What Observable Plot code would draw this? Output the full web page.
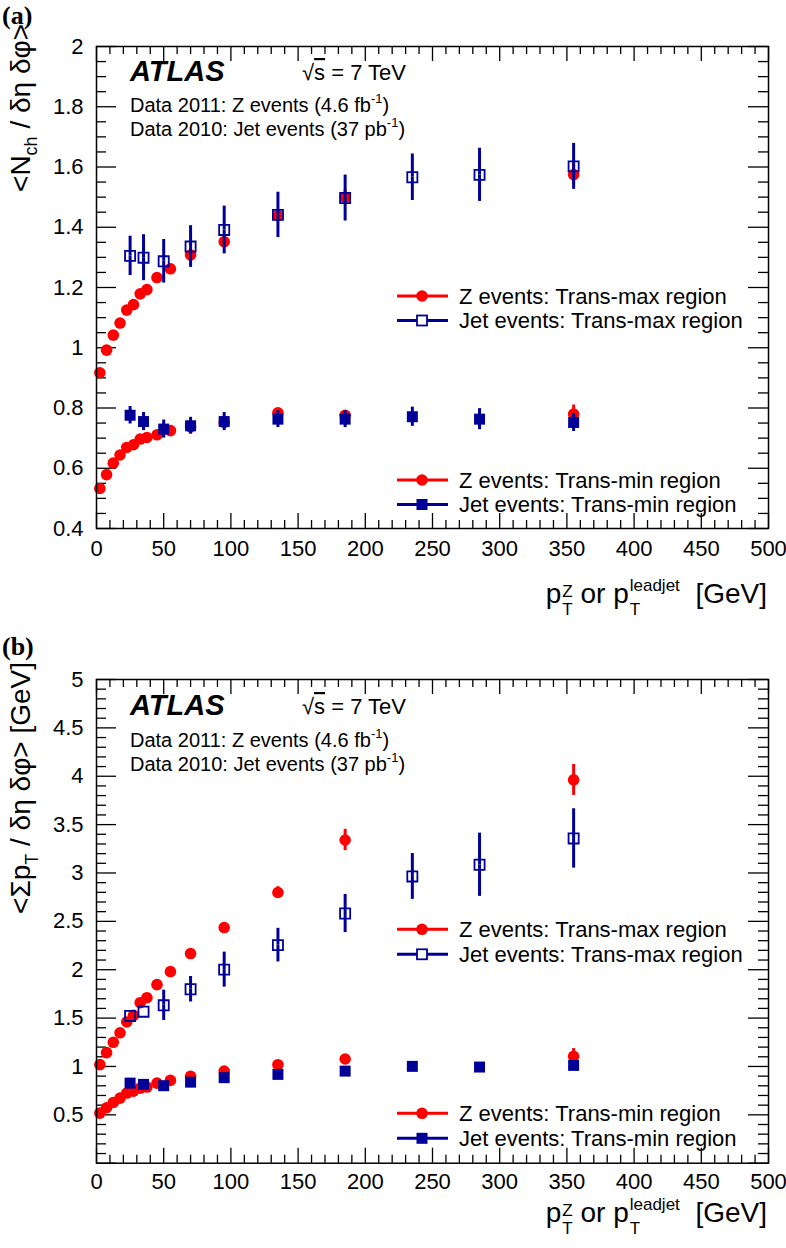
<!DOCTYPE html>
<html><head><meta charset="utf-8">
<script src="https://cdn.jsdelivr.net/npm/d3@7"></script>
<script src="https://cdn.jsdelivr.net/npm/@observablehq/plot@0.6"></script>
<style>
body{margin:0;background:#fff;}
#chart{width:786px;}
#chart svg{display:block;}
text{white-space:pre;}
</style></head><body><div id="chart"></div>
<script>
const RED = "#ff0000", BLUE = "#000099";

// bin centres (GeV)
const zPt   = [2.5, 7.5, 12.5, 17.5, 22.5, 27.5, 32.5, 37.5, 45, 55, 70, 95, 135, 185, 355];
const jetPt = [25, 35, 50, 70, 95, 135, 185, 235, 285, 355];

// panel (a): <Nch / deta dphi>
const nchZMax      = [0.917, 0.992, 1.042, 1.082, 1.125, 1.143, 1.179, 1.193, 1.233, 1.262, 1.308, 1.352, 1.439, 1.499, 1.575];
const nchZMaxErr   = [0.01, 0.01, 0.01, 0.01, 0.01, 0.01, 0.01, 0.01, 0.01, 0.012, 0.02, 0.02, 0.02, 0.025, 0.035];
const nchJetMax    = [1.305, 1.299, 1.287, 1.336, 1.391, 1.441, 1.497, 1.566, 1.574, 1.602];
const nchJetMaxErr = [0.047, 0.058, 0.054, 0.051, 0.061, 0.057, 0.058, 0.059, 0.07, 0.058];
const nchZMin      = [0.533, 0.579, 0.617, 0.644, 0.669, 0.678, 0.697, 0.702, 0.711, 0.725, 0.737, 0.752, 0.784, 0.776, 0.780];
const nchZMinErr   = [0.005, 0.005, 0.005, 0.005, 0.005, 0.005, 0.005, 0.005, 0.006, 0.008, 0.01, 0.012, 0.015, 0.015, 0.03];
const nchJetMin    = [0.776, 0.755, 0.730, 0.741, 0.755, 0.763, 0.763, 0.771, 0.763, 0.752];
const nchJetMinErr = [0.029, 0.03, 0.03, 0.028, 0.03, 0.028, 0.028, 0.032, 0.035, 0.03];

// panel (b): <sum pT / deta dphi> [GeV]
const ptZMax      = [1.019, 1.143, 1.250, 1.348, 1.460, 1.529, 1.659, 1.711, 1.846, 1.980, 2.167, 2.436, 2.798, 3.341, 3.962];
const ptZMaxErr   = [0.02, 0.02, 0.02, 0.02, 0.02, 0.02, 0.02, 0.02, 0.03, 0.03, 0.04, 0.05, 0.06, 0.11, 0.16];
const ptJetMax    = [1.522, 1.566, 1.632, 1.798, 2.001, 2.254, 2.581, 2.964, 3.085, 3.357];
const ptJetMaxErr = [0.05, 0.06, 0.1, 0.075, 0.124, 0.117, 0.14, 0.18, 0.27, 0.25];
const ptZMin      = [0.518, 0.573, 0.628, 0.673, 0.725, 0.745, 0.776, 0.787, 0.828, 0.856, 0.898, 0.952, 1.018, 1.077, 1.105];
const ptZMinErr   = [0.01, 0.01, 0.01, 0.01, 0.01, 0.01, 0.01, 0.01, 0.01, 0.01, 0.015, 0.02, 0.03, 0.04, 0.08];
const ptJetMin    = [0.828, 0.815, 0.801, 0.838, 0.884, 0.918, 0.952, 1.001, 0.994, 1.011];
const ptJetMinErr = [0.02, 0.02, 0.02, 0.02, 0.02, 0.02, 0.02, 0.03, 0.03, 0.03];

// tick labels
const xTicks  = [0, 50, 100, 150, 200, 250, 300, 350, 400, 450, 500];
const yTicksA = [0.4, 0.6, 0.8, 1, 1.2, 1.4, 1.6, 1.8, 2];
const yTicksB = [0.5, 1, 1.5, 2, 2.5, 3, 3.5, 4, 4.5, 5];

const legendLabels = ["Z events: Trans-max region", "Jet events: Trans-max region",
                      "Z events: Trans-min region", "Jet events: Trans-min region"];

const FONT = "Liberation Sans";
const measure = (() => {
  const c = document.createElement("canvas").getContext("2d");
  return (t, size) => { c.font = `${size}px "${FONT}"`; return c.measureText(t).width; };
})();

const rows = (xs, vs, es) => xs.map((x, i) => ({x, v: vs[i], e: es[i]}));

function panel(cfg) {
  const W = 786, H = cfg.height, mt = cfg.mt, mb = cfg.mb, ml = 96, mr = 18;
  const fw = W - ml - mr, fh = H - mt - mb;
  const pxPerUnit = fh / (cfg.ydom[1] - cfg.ydom[0]);
  const half = 5.5;
  const xMinor = d3.range(0, 501, 10).filter(d => d % 50 !== 0);
  const yMinor = d3.range(Math.round(cfg.ydom[0] / cfg.yMinorStep), Math.round(cfg.ydom[1] / cfg.yMinorStep) + 1)
      .map(k => +(k * cfg.yMinorStep).toFixed(4))
      .filter(d => !cfg.yMajor.some(m => Math.abs(m - d) < 1e-6));
  const marks = [];
  const tk = {stroke: "black", strokeWidth: 1.3};
  // inward ticks on all four sides
  marks.push(Plot.ruleY(cfg.yMajor, {y: d => d, insetRight: fw - 20, ...tk}));
  marks.push(Plot.ruleY(yMinor, {y: d => d, insetRight: fw - 10, ...tk}));
  marks.push(Plot.ruleY(cfg.yMajor, {y: d => d, insetLeft: fw - 20, ...tk}));
  marks.push(Plot.ruleY(yMinor, {y: d => d, insetLeft: fw - 10, ...tk}));
  marks.push(Plot.ruleX(xTicks, {x: d => d, insetTop: fh - 15, ...tk}));
  marks.push(Plot.ruleX(xMinor, {x: d => d, insetTop: fh - 8, ...tk}));
  marks.push(Plot.ruleX(xTicks, {x: d => d, insetBottom: fh - 15, ...tk}));
  marks.push(Plot.ruleX(xMinor, {x: d => d, insetBottom: fh - 8, ...tk}));

  const zSeries = (data) => [
    Plot.ruleX(data, {x: "x", y1: d => d.v - d.e, y2: d => d.v + d.e, stroke: RED, strokeWidth: 3}),
    Plot.dot(data, {x: "x", y: "v", r: 5.8, fill: RED})
  ];
  const openSeries = (data) => {
    const vis = data.filter(d => d.e * pxPerUnit > half + 0.5);
    return [
      Plot.ruleX(vis, {x: "x", y1: d => d.v - d.e, y2: "v", insetTop: half, stroke: BLUE, strokeWidth: 3}),
      Plot.ruleX(vis, {x: "x", y1: "v", y2: d => d.v + d.e, insetBottom: half, stroke: BLUE, strokeWidth: 3}),
      Plot.dot(data, {x: "x", y: "v", symbol: "square", r: 5.7, fill: "none", stroke: BLUE, strokeWidth: 1.8})
    ];
  };
  const filledSeries = (data) => [
    Plot.ruleX(data, {x: "x", y1: d => d.v - d.e, y2: d => d.v + d.e, stroke: BLUE, strokeWidth: 3}),
    Plot.dot(data, {x: "x", y: "v", symbol: "square", r: 6.2, fill: BLUE})
  ];
  marks.push(...zSeries(cfg.zMax));
  marks.push(...openSeries(cfg.jetMax));
  marks.push(...zSeries(cfg.zMin));
  marks.push(...filledSeries(cfg.jetMin));

  marks.push(Plot.axisX(xTicks, {tickSize: 0, tickPadding: cfg.xPad, fontSize: 22, label: null, tickFormat: d => String(d)}));
  marks.push(Plot.axisY(cfg.yTicks, {tickSize: 0, tickPadding: 13, fontSize: 22, label: null, tickFormat: d => String(d)}));
  marks.push(Plot.frame({stroke: "black", strokeWidth: 1.5}));

  const svg = Plot.plot({
    width: W, height: H,
    marginTop: mt, marginBottom: mb, marginLeft: ml, marginRight: mr,
    x: {domain: [0, 500]},
    y: {domain: cfg.ydom},
    style: {fontFamily: `"${FONT}", Arial, sans-serif`, fontSize: "22px", color: "black", background: "white", overflow: "visible"},
    marks
  });
  document.getElementById("chart").appendChild(svg);
  return d3.select(svg);
}

function rich(sel, {x, y, anchor = "start", rotate = false, size, parts, weight, style, family}) {
  const t = sel.append("text").attr("text-anchor", anchor).attr("font-size", size).attr("fill", "black")
    .attr("font-family", family || `"${FONT}", Arial, sans-serif`);
  if (weight) t.attr("font-weight", weight);
  if (style) t.attr("font-style", style);
  if (rotate) t.attr("transform", `translate(${x},${y}) rotate(-90)`);
  else t.attr("x", x).attr("y", y);
  let cur = 0, pendingDx = 0;
  for (const p of parts) {
    if (p.stack) {
      const [sup, sub] = p.stack;
      const wsup = measure(sup, p.size), wsub = measure(sub, p.size);
      t.append("tspan").attr("font-size", p.size).attr("dx", pendingDx + (p.gap || 0)).attr("dy", p.up - cur).text(sup);
      cur = p.up;
      t.append("tspan").attr("font-size", p.size).attr("dx", -wsup).attr("dy", p.down - cur).text(sub);
      cur = p.down;
      pendingDx = Math.max(wsup, wsub) - wsub;
    } else {
      const dy = p.dy || 0;
      const ts = t.append("tspan").attr("font-size", p.size || size).attr("dy", dy - cur).attr("dx", pendingDx).text(p.t);
      if (p.deco) ts.attr("text-decoration", p.deco);
      cur = dy; pendingDx = 0;
    }
  }
  return t;
}

function legendItem(svg, y, label, kind) {
  const color = kind === "dot" ? RED : BLUE;
  svg.append("line").attr("x1", 397).attr("x2", 448).attr("y1", y).attr("y2", y)
    .attr("stroke", color).attr("stroke-width", 3);
  if (kind === "dot") svg.append("circle").attr("cx", 422).attr("cy", y).attr("r", 5.8).attr("fill", RED);
  else if (kind === "open") svg.append("rect").attr("x", 422 - 5).attr("y", y - 5).attr("width", 10).attr("height", 10)
    .attr("fill", "white").attr("stroke", BLUE).attr("stroke-width", 1.8);
  else svg.append("rect").attr("x", 422 - 5.5).attr("y", y - 5.5).attr("width", 11).attr("height", 11).attr("fill", BLUE);
  svg.append("text").attr("x", 459).attr("y", y + 7.5).attr("font-size", 22).attr("fill", "black")
    .attr("text-anchor", "start")
    .attr("font-family", `"${FONT}", Arial, sans-serif`).text(label);
}

function header(svg, o) {
  rich(svg, {x: 2, y: o.tag, size: 26, weight: "bold", family: '"Liberation Serif", "Times New Roman", serif', parts: [{t: o.label}]});
  rich(svg, {x: 130, y: o.atlas, size: 29, weight: "bold", style: "italic", parts: [{t: "ATLAS"}]});
  rich(svg, {x: 302, y: o.atlas - 1, size: 22, parts: [{t: "√"}, {t: "s", deco: "overline"}, {t: " = 7 TeV"}]});
  rich(svg, {x: 130, y: o.d1, size: 20, parts: [{t: "Data 2011: Z events (4.6 fb"}, {t: "-1", size: 13, dy: -9}, {t: ")", dy: 0}]});
  rich(svg, {x: 130, y: o.d2, size: 20, parts: [{t: "Data 2010: Jet events (37 pb"}, {t: "-1", size: 13, dy: -9}, {t: ")", dy: 0}]});
}

function xTitle(svg, y) {
  rich(svg, {x: 767, y, anchor: "end", size: 28, parts: [
    {t: "p"}, {stack: ["Z", "T"], size: 17, up: -6, down: 12, gap: 1},
    {t: " or p"}, {stack: ["leadjet", "T"], size: 17, up: -12, down: 12, gap: 1},
    {t: "  [GeV]"}
  ]});
}

// ---------- panel (a)
const A = panel({
  height: 620, mt: 46, mb: 92, ydom: [0.4, 2], yTicks: yTicksA, yMajor: yTicksA, yMinorStep: 0.05, xPad: 12,
  zMax: rows(zPt, nchZMax, nchZMaxErr), jetMax: rows(jetPt, nchJetMax, nchJetMaxErr),
  zMin: rows(zPt, nchZMin, nchZMinErr), jetMin: rows(jetPt, nchJetMin, nchJetMinErr)
});
header(A, {label: "(a)", tag: 24, atlas: 81, d1: 112, d2: 136});
rich(A, {x: 30, y: 24, rotate: true, anchor: "end", size: 28, parts: [
  {t: "<N"}, {t: "ch", size: 18, dy: 7}, {t: " / δη δφ>", dy: 0}
]});
xTitle(A, 603);
legendItem(A, 296, legendLabels[0], "dot");
legendItem(A, 320.5, legendLabels[1], "open");
legendItem(A, 480, legendLabels[2], "dot");
legendItem(A, 504.5, legendLabels[3], "filled");

// ---------- panel (b)
const B = panel({
  height: 628, mt: 59, mb: 85.3, ydom: [0, 5], yTicks: yTicksB, yMajor: [0, ...yTicksB], yMinorStep: 0.1, xPad: 10,
  zMax: rows(zPt, ptZMax, ptZMaxErr), jetMax: rows(jetPt, ptJetMax, ptJetMaxErr),
  zMin: rows(zPt, ptZMin, ptZMinErr), jetMin: rows(jetPt, ptJetMin, ptJetMinErr)
});
header(B, {label: "(b)", tag: 35, atlas: 95, d1: 127, d2: 151});
rich(B, {x: 30, y: 42, rotate: true, anchor: "end", size: 28, parts: [
  {t: "<Σp"}, {t: "T", size: 18, dy: 8}, {t: " / δη δφ> [GeV]", dy: 0}
]});
xTitle(B, 602);
legendItem(B, 309.3, legendLabels[0], "dot");
legendItem(B, 334.3, legendLabels[1], "open");
legendItem(B, 493.3, legendLabels[2], "dot");
legendItem(B, 518.3, legendLabels[3], "filled");
</script>
</body></html>
